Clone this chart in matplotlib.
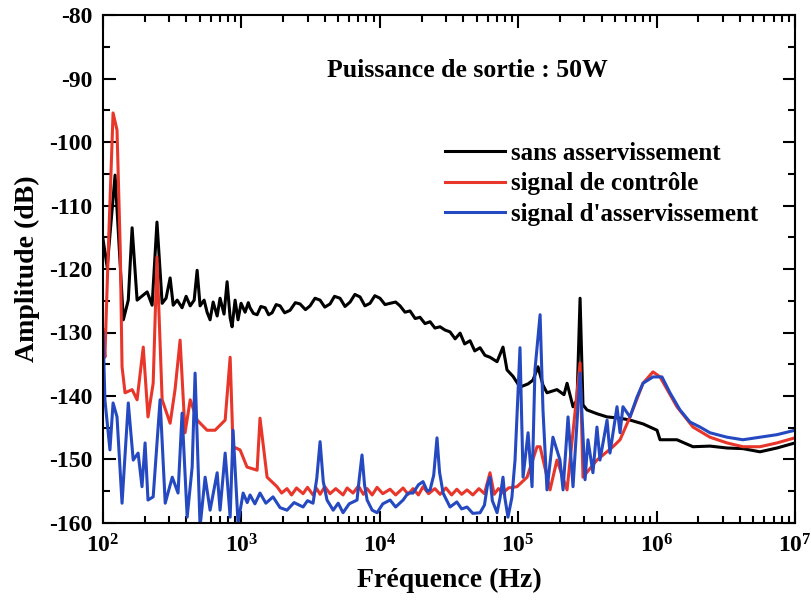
import matplotlib
matplotlib.use("Agg")
import matplotlib.pyplot as plt
from matplotlib.ticker import FixedLocator, LogLocator, MultipleLocator, NullFormatter

plt.rcParams['font.family'] = ['Liberation Serif', 'DejaVu Serif']
plt.rcParams['font.weight'] = 'bold'
plt.rcParams['axes.unicode_minus'] = False
plt.rcParams['mathtext.fontset'] = 'custom'
plt.rcParams['mathtext.rm'] = 'Liberation Serif:bold'
plt.rcParams['mathtext.it'] = 'Liberation Serif:bold'
plt.rcParams['mathtext.bf'] = 'Liberation Serif:bold'

# sans asservissement (black)
f_sans = [100, 107, 122, 140, 152, 162, 176, 208, 226, 245, 267, 285, 305, 321, 343,
          372, 398, 426, 455, 478, 502, 537, 564, 593, 624, 667, 700, 748, 787, 828,
          855, 899, 944, 993, 1062, 1120, 1153, 1220, 1297, 1380, 1483, 1570, 1663,
          1780, 1901, 2050, 2244, 2450, 2649, 2900, 3130, 3400, 3698, 4000, 4365,
          4700, 5152, 5600, 6095, 6600, 7194, 7800, 8490, 9200, 10020, 10900, 11860,
          13000, 13990, 15200, 16520, 18000, 19500, 21200, 23070, 25000, 27230,
          29500, 32140, 35000, 38020, 41000, 44870, 48500, 52970, 57500, 62520,
          70310, 77620, 82990, 91620, 103000, 117800, 127900, 139000, 151000, 161400,
          190500, 214300, 225400, 248900, 266100, 279900, 293800, 314100, 370700,
          438500, 544500, 642700, 798000, 1007000, 1059000, 1403000, 1832000,
          2432000, 3228000, 4207000, 5585000, 7413000, 10000000]
a_sans = [-115.4, -119.7, -105.2, -128.0, -124.9, -113.5, -124.9, -123.6, -125.7, -112.6,
          -125.4, -124.6, -121.4, -125.7, -124.9, -126.1, -124.3, -125.8, -124.9, -120.2,
          -125.8, -124.9, -126.8, -128.0, -125.2, -127.4, -124.6, -127.1, -122.0, -127.7,
          -129.1, -124.9, -128.0, -125.4, -126.8, -125.3, -126.1, -127.0, -127.2, -125.9,
          -126.1, -127.2, -126.9, -125.6, -125.8, -126.9, -126.5, -125.3, -125.5, -126.4,
          -125.8, -124.6, -124.9, -126.0, -125.5, -124.3, -124.6, -125.9, -125.2, -124.0,
          -124.4, -125.8, -125.4, -124.2, -124.6, -125.6, -125.4, -125.2, -125.8, -126.8,
          -126.6, -127.8, -127.6, -128.6, -128.3, -129.3, -129.1, -129.6, -129.9, -131.0,
          -130.1, -131.8, -131.3, -132.9, -132.4, -133.6, -133.9, -134.6, -132.3, -135.9,
          -136.9, -138.6, -138.1, -137.5, -135.4, -138.3, -139.5, -139.0, -139.8, -138.0,
          -141.7, -140.6, -124.6, -141.4, -142.2, -142.8, -143.3, -143.5, -143.8, -144.4,
          -145.4, -146.9, -146.9, -148.0, -147.9, -148.2, -148.3, -148.8, -148.2, -147.4]

# signal de controle (red)
f_ctrl = [100, 103, 109, 118, 126, 133, 137, 144, 162, 176, 195, 211, 230, 245, 267,
          305, 331, 360, 391, 426, 478, 564, 644, 762, 828, 869, 977, 1096, 1297, 1361,
          1531, 1807, 1950, 2133, 2300, 2500, 2786, 3000, 3289, 3500, 3698, 4000, 4365,
          4800, 5420, 5800, 6400, 7000, 7600, 8090, 8800, 9550, 10500, 11860, 13000,
          14720, 16000, 17380, 19000, 20510, 22500, 25000, 27230, 30000, 33000, 36000,
          39000, 42660, 47000, 52000, 57000, 62520, 67000, 72000, 77620, 85000, 97950,
          115900, 136800, 143900, 169800, 190500, 225400, 279900, 293800, 370700,
          484200, 544500, 642700, 798000, 941900, 1059000, 1403000, 1832000, 2432000,
          3228000, 4207000, 5585000, 7413000, 10000000]
a_ctrl = [-129.6, -133.9, -117.0, -95.4, -98.1, -117.0, -135.4, -139.5, -139.0, -140.6,
          -132.3, -143.3, -138.0, -118.1, -140.6, -144.3, -139.0, -131.2, -145.8, -140.6,
          -143.8, -145.4, -145.4, -143.8, -133.9, -148.0, -148.5, -151.2, -151.7, -143.5,
          -152.8, -154.3, -155.3, -154.6, -155.6, -154.5, -155.4, -154.4, -155.6, -154.6,
          -155.5, -154.3, -155.4, -154.6, -155.6, -154.5, -155.3, -154.2, -155.5, -154.6,
          -155.6, -154.4, -155.4, -154.7, -155.6, -154.5, -155.5, -154.6, -155.6, -154.3,
          -155.4, -154.6, -155.5, -154.5, -155.6, -154.7, -155.5, -154.8, -155.6, -154.6,
          -155.4, -152.1, -155.5, -154.6, -155.3, -154.5, -154.3, -152.8, -148.0, -148.0,
          -154.8, -150.1, -154.8, -134.8, -152.8, -150.1, -148.0, -146.9, -143.3, -138.0,
          -136.2, -137.0, -141.7, -144.9, -146.5, -147.4, -148.0, -148.0, -147.4, -146.6]

# signal d'asservissement (blue)
f_asv = [100, 103, 112, 118, 126, 137, 152, 165, 179, 191, 201, 211, 230, 258, 281,
         316, 348, 372, 405, 440, 462, 502, 546, 593, 667, 700, 762, 828, 869, 944,
         1028, 1100, 1153, 1250, 1361, 1500, 1690, 1900, 2133, 2400, 2786, 3000, 3289,
         3500, 3698, 3900, 4150, 4600, 5000, 5420, 6000, 6840, 7100, 7430, 7750, 8090,
         8800, 9550, 10500, 11860, 13000, 14720, 16000, 17380, 19000, 20510, 22000,
         23070, 24500, 25880, 27000, 28640, 30500, 32140, 36000, 39000, 42660, 47000,
         52970, 57000, 60000, 62520, 65000, 70310, 74000, 77620, 80000, 84330, 90000,
         94840, 103000, 108400, 117800, 125900, 132100, 143900, 151000, 161400, 178200,
         200400, 210900, 229100, 248900, 279900, 304100, 319200, 346700, 370700,
         389900, 438500, 460300, 517600, 544500, 571500, 642700, 721100, 798000,
         941900, 1094000, 1250000, 1476000, 1742000, 2061000, 2432000, 3228000,
         4207000, 5585000, 7413000, 10000000]
a_asv = [-130.0, -140.6, -148.5, -141.1, -143.3, -156.9, -141.1, -150.1, -149.0, -154.3,
         -147.4, -156.4, -155.9, -140.6, -156.9, -152.8, -155.3, -142.7, -159.1, -151.2,
         -136.4, -160.6, -152.8, -158.0, -152.1, -158.0, -149.0, -159.1, -145.4, -160.0,
         -155.3, -156.8, -155.6, -157.0, -155.3, -156.9, -155.9, -157.6, -158.0, -156.8,
         -157.5, -156.5, -156.9, -153.0, -147.2, -153.5, -156.4, -158.0, -156.9, -158.4,
         -157.0, -156.4, -153.0, -149.3, -154.0, -156.4, -158.0, -158.4, -157.0, -156.4,
         -157.5, -156.4, -155.3, -155.3, -154.0, -153.5, -155.0, -154.8, -152.5, -146.6,
         -152.0, -155.3, -156.5, -157.5, -156.7, -157.8, -157.5, -158.5, -158.4, -157.2,
         -154.0, -152.8, -156.5, -158.4, -156.0, -152.8, -156.0, -159.1, -156.0, -150.1,
         -132.4, -152.8, -145.8, -154.3, -135.9, -127.2, -142.2, -154.8, -146.5, -150.1,
         -154.8, -143.3, -154.3, -136.4, -153.2, -146.9, -152.1, -144.9, -150.1, -143.8,
         -149.0, -141.7, -145.8, -141.7, -143.3, -140.2, -138.0, -137.0, -137.0, -139.5,
         -142.2, -144.1, -144.9, -145.8, -146.5, -146.9, -146.5, -146.1, -145.4]

decades = [1e2, 1e3, 1e4, 1e5, 1e6, 1e7]
decade_labels = [r'$10^2$', r'$10^3$', r'$10^4$', r'$10^5$', r'$10^6$', r'$10^7$']

fig = plt.figure(figsize=(8.12, 6.08), dpi=100)
ax = fig.add_axes([0.127, 0.140, 0.852, 0.835])

ax.plot(f_sans, a_sans, color='black', lw=2.2, label='sans asservissement')
ax.plot(f_ctrl, a_ctrl, color='#e8362b', lw=2.2, label='signal de contrôle')
ax.plot(f_asv, a_asv, color='#2449c0', lw=2.2, label="signal d'asservissement")

ax.set_xscale('log')
ax.set_xlim(1e2, 1e7)
ax.set_ylim(-160, -80)
ax.xaxis.set_major_locator(FixedLocator(decades))
ax.set_xticklabels(decade_labels)
ax.xaxis.set_minor_locator(LogLocator(base=10, subs=range(2, 10), numticks=20))
ax.xaxis.set_minor_formatter(NullFormatter())
ax.yaxis.set_major_locator(MultipleLocator(10))
ax.yaxis.set_minor_locator(MultipleLocator(5))

ax.tick_params(which='both', direction='in', top=True, right=True, width=1.5)
ax.tick_params(which='major', length=9, labelsize=17, pad=8)
ax.tick_params(which='minor', length=5)
for s in ax.spines.values():
    s.set_linewidth(1.5)

ax.set_xlabel('Fréquence (Hz)', fontsize=20, fontweight='bold', labelpad=8)
ax.set_ylabel('Amplitude (dB)', fontsize=20, fontweight='bold', labelpad=6)

ax.text(0.527, 0.892, 'Puissance de sortie : 50W', transform=ax.transAxes,
        fontsize=18.5, fontweight='bold', ha='center', va='center')

ax.legend(loc='upper right', bbox_to_anchor=(0.98, 0.795), frameon=False,
          handlelength=2.4, handletextpad=0.25, labelspacing=0.3,
          prop={'weight': 'bold', 'size': 18})

fig.savefig('out.png', dpi=100)
